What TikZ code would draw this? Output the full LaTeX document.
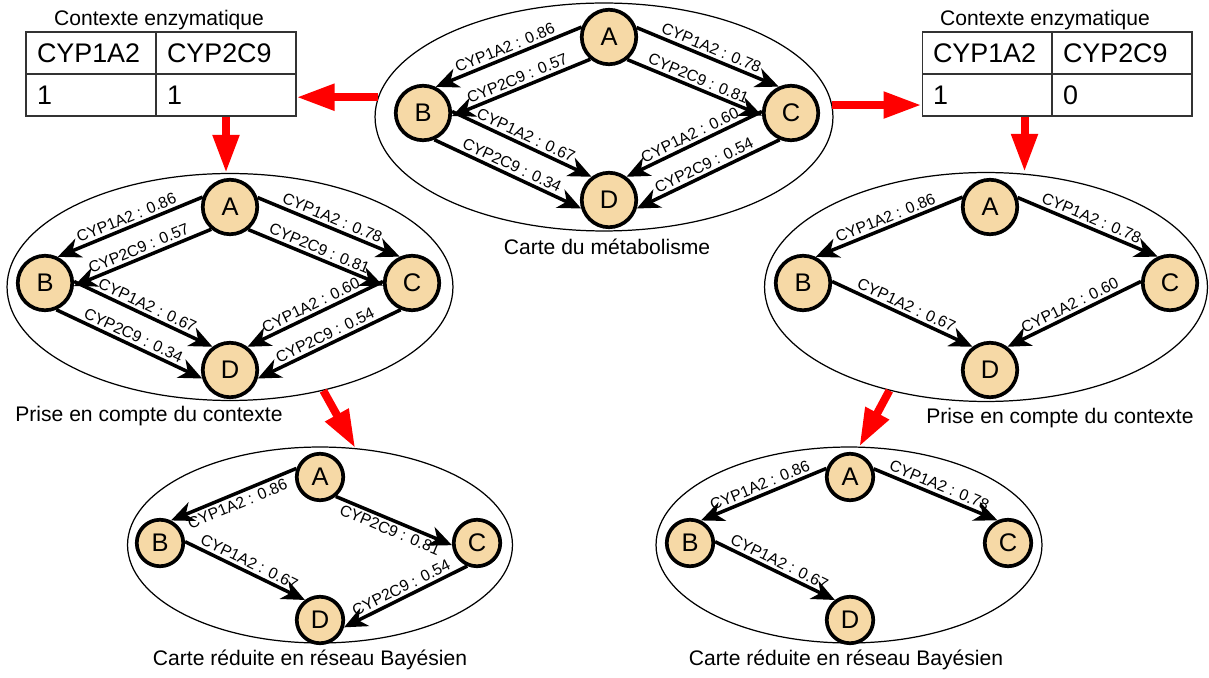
\documentclass[tikz,border=0pt]{standalone}
\usepackage{fontspec}
\setmainfont{Liberation Sans}
\usetikzlibrary{arrows.meta,shapes.geometric}
\definecolor{molfill}{RGB}{246,217,166}
\begin{document}
\begin{tikzpicture}[x=0.02cm,y=-0.02cm,
  mol/.style={circle,draw,line width=2.1pt,fill=molfill,minimum size=1.09cm,inner sep=0pt,font=\fontsize{14.5}{16}\selectfont},
  molsm/.style={mol,minimum size=0.93cm},
  map/.style={ellipse,draw,line width=0.7pt,inner sep=0pt},
  rx/.style={line width=2pt,-{Stealth[length=0.46cm,width=0.4cm,inset=0.14cm]}},
  lbl/.style={sloped,midway,font=\fontsize{9}{10}\selectfont,inner sep=1.5pt},
  ctx/.style={red,line width=0.16cm,-{Triangle[length=0.76cm,width=0.5cm]}},
  cell/.style={draw=black!80,line width=0.6pt,minimum height=0.84cm,text width=2.16cm,inner xsep=0.22cm,align=left,font=\fontsize{15.3}{17}\selectfont},
  cellw/.style={cell,text width=2.36cm},
  mapcap/.style={font=\fontsize{12}{14}\selectfont}]
\useasboundingbox (0,0) rectangle (1209,678);
\node[map,minimum width=9.16cm,minimum height=4.56cm] (e1) at (604,117) {};
\node[map,minimum width=8.92cm,minimum height=4.54cm] (e2) at (230,287) {};
\node[map,minimum width=8.86cm,minimum height=4.58cm] (e3) at (986,287) {};
\node[map,minimum width=7.70cm,minimum height=3.92cm] (e4) at (320,545) {};
\node[map,minimum width=7.72cm,minimum height=3.92cm] (e5) at (849,545) {};
\node[mol] (a1) at (609,37) {A};
\node[mol] (b1) at (423,113) {B};
\node[mol] (c1) at (791,113) {C};
\node[mol] (d1) at (609,200) {D};
\node[mol] (a2) at (230,207) {A};
\node[mol] (b2) at (45,283) {B};
\node[mol] (c2) at (412,283) {C};
\node[mol] (d2) at (230,370) {D};
\node[mol] (a3) at (990,207) {A};
\node[mol] (b3) at (803,283) {B};
\node[mol] (c3) at (1170,283) {C};
\node[mol] (d3) at (990,370) {D};
\node[molsm] (a4) at (320,477) {A};
\node[molsm] (b4) at (160,543) {B};
\node[molsm] (c4) at (477,543) {C};
\node[molsm] (d4) at (320,620) {D};
\node[molsm] (a5) at (850,477) {A};
\node[molsm] (b5) at (690,543) {B};
\node[molsm] (c5) at (1008,543) {C};
\node[molsm] (d5) at (850,620) {D};
\draw[rx] (a1.160) -- (b1.64) node[lbl,above] {CYP1A2 : 0.86};
\draw[rx] (a1.230) -- (b1.354) node[lbl,above] {CYP2C9 : 0.57};
\draw[rx] (a1.19) -- (c1.115) node[lbl,above] {CYP1A2 : 0.78};
\draw[rx] (a1.309) -- (c1.185) node[lbl,above] {CYP2C9 : 0.81};
\draw[rx] (b1.3) -- (d1.127) node[lbl,above] {CYP1A2 : 0.67};
\draw[rx] (b1.293) -- (d1.197) node[lbl,above] {CYP2C9 : 0.34};
\draw[rx] (c1.177) -- (d1.53) node[lbl,above] {CYP1A2 : 0.60};
\draw[rx] (c1.247) -- (d1.343) node[lbl,above] {CYP2C9 : 0.54};
\draw[rx] (a2.160) -- (b2.64) node[lbl,above] {CYP1A2 : 0.86};
\draw[rx] (a2.230) -- (b2.354) node[lbl,above] {CYP2C9 : 0.57};
\draw[rx] (a2.19) -- (c2.115) node[lbl,above] {CYP1A2 : 0.78};
\draw[rx] (a2.309) -- (c2.185) node[lbl,above] {CYP2C9 : 0.81};
\draw[rx] (b2.3) -- (d2.127) node[lbl,above] {CYP1A2 : 0.67};
\draw[rx] (b2.293) -- (d2.197) node[lbl,above] {CYP2C9 : 0.34};
\draw[rx] (c2.177) -- (d2.53) node[lbl,above] {CYP1A2 : 0.60};
\draw[rx] (c2.247) -- (d2.343) node[lbl,above] {CYP2C9 : 0.54};
\draw[rx] (a3.160) -- (b3.64) node[lbl,above] {CYP1A2 : 0.86};
\draw[rx] (a3.19) -- (c3.115) node[lbl,above] {CYP1A2 : 0.78};
\draw[rx] (b3.3) -- (d3.127) node[lbl,above] {CYP1A2 : 0.67};
\draw[rx] (c3.177) -- (d3.53) node[lbl,above] {CYP1A2 : 0.60};
\draw[rx] (a4.160) -- (b4.64) node[lbl,below] {CYP1A2 : 0.86};
\draw[rx] (a4.309) -- (c4.185) node[lbl,below] {CYP2C9 : 0.81};
\draw[rx] (b4.3) -- (d4.127) node[lbl,above] {CYP1A2 : 0.67};
\draw[rx] (c4.247) -- (d4.343) node[lbl,above] {CYP2C9 : 0.54};
\draw[rx] (a5.160) -- (b5.64) node[lbl,above] {CYP1A2 : 0.86};
\draw[rx] (a5.19) -- (c5.115) node[lbl,above] {CYP1A2 : 0.78};
\draw[rx] (b5.3) -- (d5.127) node[lbl,above] {CYP1A2 : 0.67};
\node[mapcap] (k1) at (607,247) {Carte du métabolisme};
\node[mapcap] (k2) at (149,416) {Prise en compte du contexte};
\node[mapcap] (k3) at (1060,418) {Prise en compte du contexte};
\node[mapcap] (k4) at (310,660) {Carte réduite en réseau Bayésien};
\node[mapcap] (k5) at (846,660) {Carte réduite en réseau Bayésien};
\node[mapcap] (h1) at (159,20) {Contexte enzymatique};
\node[cell] (t1a) at (91,53) {CYP1A2};
\node[cellw] (t1b) at (226,53) {CYP2C9};
\node[cell] (t1c) at (91,95) {1};
\node[cellw] (t1d) at (226,95) {1};
\node[mapcap] (h2) at (1045,20) {Contexte enzymatique};
\node[cell] (t2a) at (987,53) {CYP1A2};
\node[cellw] (t2b) at (1122,53) {CYP2C9};
\node[cell] (t2c) at (987,95) {1};
\node[cellw] (t2d) at (1122,95) {0};
\coordinate (p2) at ([xshift=-0.56cm]t2c.south east);
\draw[ctx] (e1.175) -- (e1.175 -| t1d.east);
\draw[ctx] (e1.3) -- (e1.3 -| t2c.west);
\draw[ctx] (t1d.south) -- (t1d.south |- e2.north);
\draw[ctx] (p2) -- (p2 |- e3.north);
\draw[ctx] (e2.312) -- (e4.70);
\draw[ctx] (e3.227) -- (e5.84);
\end{tikzpicture}
\end{document}
